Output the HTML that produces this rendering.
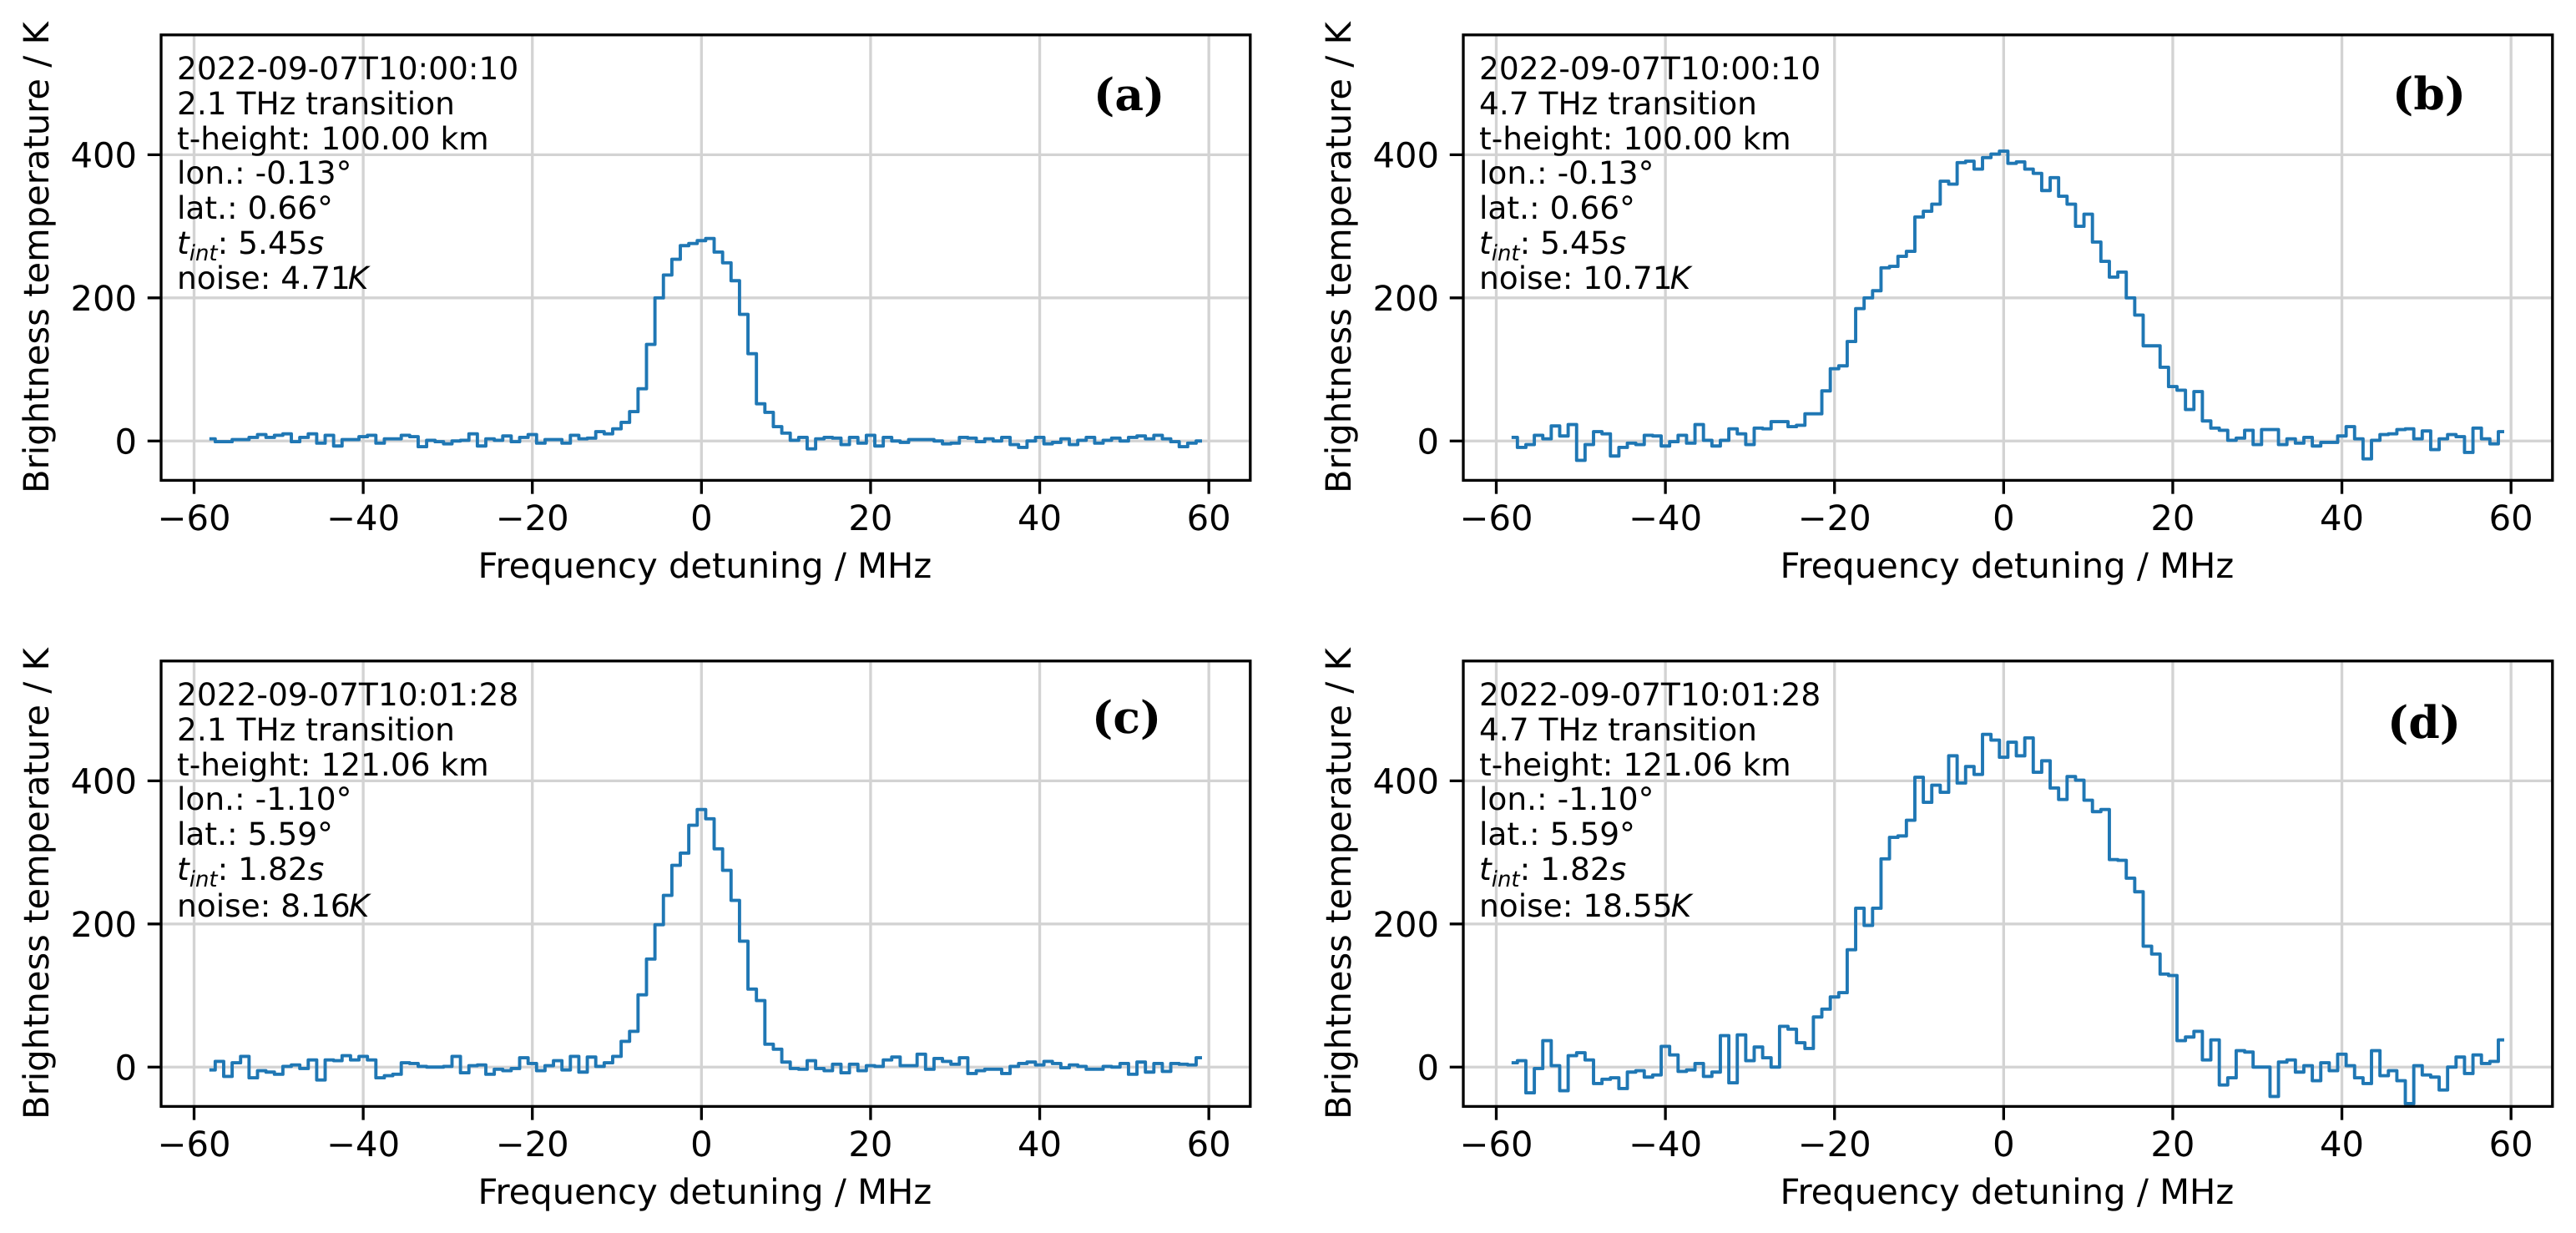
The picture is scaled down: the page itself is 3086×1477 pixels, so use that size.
<!DOCTYPE html>
<html lang="en">
<head>
<meta charset="utf-8">
<title>Brightness temperature spectra</title>
<style>
html,body{margin:0;padding:0;background:#fff;width:3086px;height:1477px;overflow:hidden}
svg{display:block}
text{font-family:"DejaVu Sans","Liberation Sans",sans-serif;fill:#000;text-rendering:geometricPrecision}
.note{font-size:37.5px}
.tag{font-family:"DejaVu Serif","Liberation Serif",serif;font-weight:bold;font-size:53.5px}
.it{font-style:italic}
.sub{font-style:italic;font-size:26px}
</style>
</head>
<body>
<svg id="figure" xmlns="http://www.w3.org/2000/svg" width="3086" height="1477" viewBox="0 0 3086 1477">
  <rect width="3086" height="1477" fill="#fff"/>
  <g id="panel-a"></g>
  <g id="panel-b"></g>
  <g id="panel-c"></g>
  <g id="panel-d"></g>

  <g class="note">
    <text x="212" y="95">2022-09-07T10:00:10</text>
    <text x="212" y="137">2.1 THz transition</text>
    <text x="212" y="179">t-height: 100.00 km</text>
    <text x="212" y="220">lon.: -0.13°</text>
    <text x="212" y="262">lat.: 0.66°</text>
    <text x="212" y="304"><tspan class="it">t</tspan><tspan class="sub" dy="8">int</tspan><tspan dy="-8">: 5.45</tspan><tspan class="it">s</tspan></text>
    <text x="212" y="346">noise: 4.71<tspan class="it" dx="-3">K</tspan></text>
  </g>
  <g class="note">
    <text x="1772" y="95">2022-09-07T10:00:10</text>
    <text x="1772" y="137">4.7 THz transition</text>
    <text x="1772" y="179">t-height: 100.00 km</text>
    <text x="1772" y="220">lon.: -0.13°</text>
    <text x="1772" y="262">lat.: 0.66°</text>
    <text x="1772" y="304"><tspan class="it">t</tspan><tspan class="sub" dy="8">int</tspan><tspan dy="-8">: 5.45</tspan><tspan class="it">s</tspan></text>
    <text x="1772" y="346">noise: 10.71<tspan class="it" dx="-3">K</tspan></text>
  </g>
  <g class="note">
    <text x="212" y="845">2022-09-07T10:01:28</text>
    <text x="212" y="887">2.1 THz transition</text>
    <text x="212" y="929">t-height: 121.06 km</text>
    <text x="212" y="970">lon.: -1.10°</text>
    <text x="212" y="1012">lat.: 5.59°</text>
    <text x="212" y="1054"><tspan class="it">t</tspan><tspan class="sub" dy="8">int</tspan><tspan dy="-8">: 1.82</tspan><tspan class="it">s</tspan></text>
    <text x="212" y="1098">noise: 8.16<tspan class="it" dx="-2">K</tspan></text>
  </g>
  <g class="note">
    <text x="1772" y="845">2022-09-07T10:01:28</text>
    <text x="1772" y="887">4.7 THz transition</text>
    <text x="1772" y="929">t-height: 121.06 km</text>
    <text x="1772" y="970">lon.: -1.10°</text>
    <text x="1772" y="1012">lat.: 5.59°</text>
    <text x="1772" y="1054"><tspan class="it">t</tspan><tspan class="sub" dy="8">int</tspan><tspan dy="-8">: 1.82</tspan><tspan class="it">s</tspan></text>
    <text x="1772" y="1098">noise: 18.55<tspan class="it" dx="-2">K</tspan></text>
  </g>

  <text class="tag" x="1310" y="132">(a)</text>
  <text class="tag" x="2866" y="131">(b)</text>
  <text class="tag" x="1308" y="878">(c)</text>
  <text class="tag" x="2860" y="884">(d)</text>
</svg>
<script>
const frequencies = [-58,-57,-56,-55,-54,-53,-52,-51,-50,-49,-48,-47,-46,-45,-44,-43,-42,-41,-40,-39,
-38,-37,-36,-35,-34,-33,-32,-31,-30,-29,-28,-27,-26,-25,-24,-23,-22,-21,-20,-19,
-18,-17,-16,-15,-14,-13,-12,-11,-10,-9,-8,-7,-6,-5,-4,-3,-2,-1,0,1,
2,3,4,5,6,7,8,9,10,11,12,13,14,15,16,17,18,19,20,21,
22,23,24,25,26,27,28,29,30,31,32,33,34,35,36,37,38,39,40,41,
42,43,44,45,46,47,48,49,50,51,52,53,54,55,56,57,58,59];

const seriesA = [3,-1,-1,2,2,5,9,5,8,10,
-1,5,10,-3,8,-7,2,2,6,8,
-3,3,3,8,6,-8,1,-1,-4,0,
1,10,-7,3,1,7,-1,5,9,-3,
2,2,-3,8,3,4,13,10,17,26,
41,73,135,200,232,254,273,276,280,283,
264,249,224,177,122,52,40,20,11,1,
5,-11,3,5,4,-5,5,-3,8,-7,
5,0,-2,2,2,2,0,-4,-3,5,
4,-1,3,0,5,-5,-9,0,5,-4,
-2,3,-5,1,5,-3,1,4,0,5,
7,3,8,3,-1,-8,-3,0];

const seriesB = [5,-9,-5,8,3,21,7,23,-27,-5,
13,10,-21,-9,-3,-5,8,7,-7,-1,
8,-3,23,1,-7,1,17,10,-5,18,
17,27,27,20,22,38,38,70,101,105,
139,185,200,210,242,244,258,265,313,321,
331,363,359,389,391,380,396,401,405,388,
390,380,374,350,368,342,331,300,317,278,
251,229,236,200,176,133,133,103,76,71,
44,69,28,18,15,1,4,15,-5,16,
16,-5,3,-3,5,-7,-2,-2,7,20,
3,-25,1,9,10,16,17,3,14,-12,
3,9,6,-16,18,3,-4,13];

const seriesC = [-4,8,-13,6,15,-15,-5,-7,-10,1,
3,-2,10,-18,10,9,16,10,15,10,
-15,-12,-10,6,5,1,0,0,1,15,
-8,2,3,-10,-3,-5,-2,13,5,-5,
2,9,-4,15,-7,14,1,6,15,36,
50,101,151,199,240,282,299,338,360,347,
305,275,233,176,109,93,32,25,7,-2,
-3,9,-2,-5,4,-8,4,-5,2,1,
10,14,2,2,18,-3,12,8,4,13,
-9,-5,-3,-3,-9,1,5,7,3,8,
5,-1,3,1,-3,-3,1,0,5,-10,
7,-7,5,-6,5,4,3,13];

const seriesD = [6,9,-36,-2,37,2,-33,16,20,10,
-23,-17,-15,-30,-7,-5,-14,-11,29,17,
-6,-4,5,-13,-7,44,-22,45,9,28,
13,0,57,53,34,26,70,81,98,104,
164,222,198,222,291,321,323,345,405,370,
394,384,435,397,420,409,465,457,433,454,
435,460,412,428,390,374,406,401,373,357,
360,290,289,264,245,169,158,130,128,37,
42,50,10,38,-25,-15,23,21,0,0,
-41,7,10,-7,2,-19,6,-5,18,2,
-15,-23,23,-12,-5,-19,-51,2,-11,-14,
-32,0,14,-9,17,5,8,38];

const xTickValues = [-60,-40,-20,0,20,40,60];
const yTickValues = [0,200,400];
const xDomain = [-63.9,64.9];
const yDomain = [-55,567.5];
const xAxisTitle = 'Frequency detuning / MHz';
const yAxisTitle = 'Brightness temperature / K';

const NS = 'http://www.w3.org/2000/svg';
const TICK_LEN = 14.6;
const AXIS_W = 3.33;

function make(parent, tag, attrs, text) {
  const el = document.createElementNS(NS, tag);
  for (const k in attrs) el.setAttribute(k, attrs[k]);
  if (text !== undefined) el.textContent = text;
  parent.appendChild(el);
  return el;
}

function drawPanel(id, values, left, right, top, bottom, yTitleX) {
  const root = document.getElementById(id);
  const xScale = v => left + (v - xDomain[0]) / (xDomain[1] - xDomain[0]) * (right - left);
  const yScale = v => bottom - (v - yDomain[0]) / (yDomain[1] - yDomain[0]) * (bottom - top);

  xTickValues.forEach(t => {
    const x = xScale(t);
    const grid = make(root, 'line', {x1:x, x2:x, y1:top, y2:bottom, stroke:'#d3d3d3', 'stroke-width':AXIS_W});
    
    
  });
  yTickValues.forEach(t => {
    const y = yScale(t);
    const grid = make(root, 'line', {x1:left, x2:right, y1:y, y2:y, stroke:'#d3d3d3', 'stroke-width':AXIS_W});
    
    
  });

  let d = 'M' + xScale(frequencies[0]).toFixed(2) + ' ' + yScale(values[0]).toFixed(2);
  for (let i = 1; i < frequencies.length; i++) {
    const mid = xScale((frequencies[i - 1] + frequencies[i]) / 2);
    d += 'H' + mid.toFixed(2) + 'V' + yScale(values[i]).toFixed(2);
  }
  d += 'H' + xScale(frequencies[frequencies.length - 1]).toFixed(2);
  const line = make(root, 'path', {d:d, fill:'none', stroke:'#1f77b4', 'stroke-width':3.9, 'stroke-linejoin':'round', 'stroke-linecap':'square'});
  
  

  const frame = make(root, 'rect', {x:left, y:top, width:right - left, height:bottom - top, fill:'none', stroke:'#000', 'stroke-width':AXIS_W});
  
  

  xTickValues.forEach(t => {
    const x = xScale(t);
    const tick = make(root, 'line', {x1:x, x2:x, y1:bottom, y2:bottom + TICK_LEN + AXIS_W / 2, stroke:'#000', 'stroke-width':AXIS_W});
    
    
    const label = make(root, 'text', {x:x, y:bottom + 59.6, 'text-anchor':'middle', 'font-size':41.67}, String(t).replace('-', '\u2212'));
    
    
  });
  yTickValues.forEach(t => {
    const y = yScale(t);
    const tick = make(root, 'line', {x1:left - TICK_LEN - AXIS_W / 2, x2:left, y1:y, y2:y, stroke:'#000', 'stroke-width':AXIS_W});
    
    
    const label = make(root, 'text', {x:left - 29, y:y + 15.2, 'text-anchor':'end', 'font-size':41.67}, String(t));
    
    
  });

  const xTitle = make(root, 'text', {x:(left + right) / 2 - 1, y:bottom + 116.5, 'text-anchor':'middle', 'font-size':41.67}, xAxisTitle);
  
  
  const cy = (top + bottom) / 2;
  const yTitle = make(root, 'text', {x:yTitleX, y:cy, 'text-anchor':'middle', 'font-size':41.67, transform:'rotate(-90 ' + yTitleX + ' ' + cy + ')'}, yAxisTitle);
  
  
}

drawPanel('panel-a', seriesA, 193, 1497.8, 41.8, 575.4, 58);
drawPanel('panel-b', seriesB, 1753, 3057.8, 41.8, 575.4, 1618);
drawPanel('panel-c', seriesC, 193, 1497.8, 791.8, 1325.4, 58);
drawPanel('panel-d', seriesD, 1753, 3057.8, 791.8, 1325.4, 1618);
</script>
</body>
</html>
